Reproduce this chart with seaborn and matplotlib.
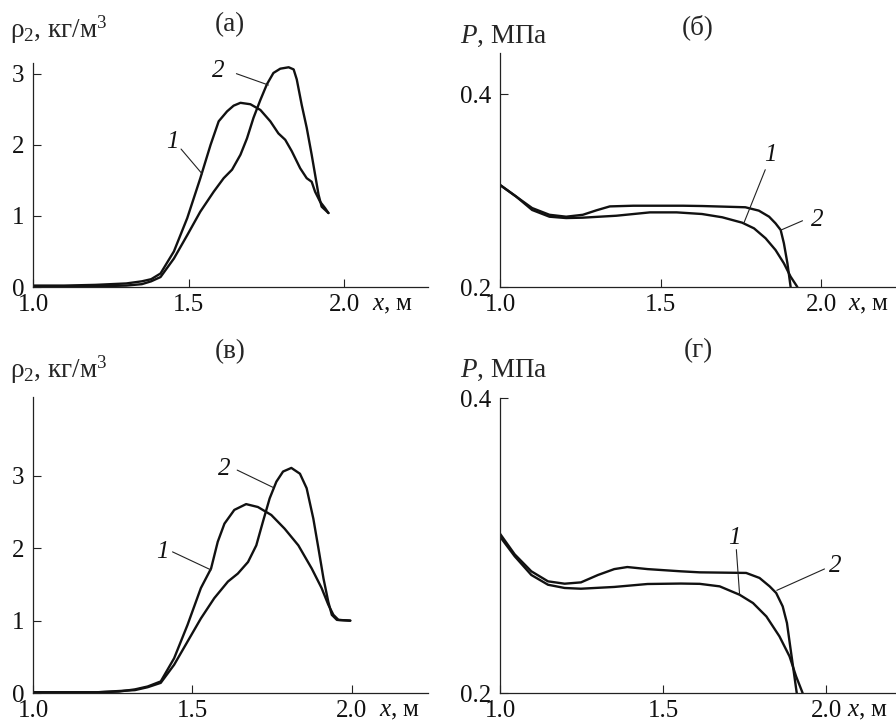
import numpy as np
import pandas as pd
import matplotlib
matplotlib.use("Agg")
import matplotlib.pyplot as plt
import seaborn as sns

# ---------------- data ----------------
# panel (а): rho2 vs x
a1_x = [1.00, 1.10, 1.20, 1.30, 1.35, 1.38, 1.41, 1.453, 1.496, 1.538, 1.571, 1.597, 1.624, 1.645,
        1.667, 1.699, 1.731, 1.763, 1.789, 1.811, 1.832, 1.859, 1.880, 1.896, 1.907, 1.923, 1.939, 1.95]
a1_y = [0.02, 0.02, 0.03, 0.05, 0.08, 0.11, 0.19, 0.50, 0.97, 1.53, 2.00, 2.33, 2.47, 2.55,
        2.59, 2.57, 2.49, 2.33, 2.16, 2.07, 1.91, 1.67, 1.53, 1.48, 1.34, 1.20, 1.11, 1.04]
a2_x = [1.00, 1.20, 1.30, 1.35, 1.38, 1.41, 1.453, 1.496, 1.538, 1.581, 1.613, 1.640, 1.667, 1.688,
        1.709, 1.731, 1.752, 1.773, 1.795, 1.822, 1.838, 1.848, 1.864, 1.880, 1.896, 1.907, 1.918,
        1.928, 1.95]
a2_y = [0.01, 0.01, 0.02, 0.04, 0.08, 0.14, 0.40, 0.73, 1.06, 1.34, 1.53, 1.65, 1.86, 2.09,
        2.38, 2.63, 2.85, 3.01, 3.07, 3.09, 3.06, 2.92, 2.56, 2.24, 1.86, 1.58, 1.30,
        1.13, 1.04]

# panel (б): P vs x
b1_x = [1.00, 1.05, 1.10, 1.154, 1.206, 1.258, 1.362, 1.467, 1.55, 1.629, 1.692, 1.754, 1.791,
        1.827, 1.858, 1.884, 1.905, 1.926]
b1_y = [0.306, 0.294, 0.280, 0.273, 0.2716, 0.272, 0.274, 0.2775, 0.2775, 0.2758, 0.2724, 0.2668,
        0.2609, 0.2506, 0.2384, 0.2246, 0.2107, 0.200]
b2_x = [1.00, 1.05, 1.10, 1.154, 1.206, 1.258, 1.30, 1.342, 1.415, 1.57, 1.629, 1.764, 1.806,
        1.838, 1.858, 1.874, 1.884, 1.895, 1.905]
b2_y = [0.306, 0.294, 0.282, 0.275, 0.273, 0.275, 0.2796, 0.2837, 0.2844, 0.2844, 0.2841, 0.2828,
        0.2793, 0.2730, 0.2661, 0.2592, 0.2454, 0.2246, 0.200]

# panel (в): rho2 vs x
c1_x = [1.00, 1.10, 1.20, 1.27, 1.32, 1.36, 1.401, 1.443, 1.485, 1.527, 1.559, 1.580, 1.601, 1.632,
        1.669, 1.706, 1.748, 1.790, 1.833, 1.875, 1.906, 1.927, 1.943, 1.959, 1.996]
c1_y = [0.01, 0.01, 0.01, 0.02, 0.05, 0.09, 0.16, 0.48, 0.94, 1.45, 1.72, 2.09, 2.34, 2.53,
        2.61, 2.57, 2.46, 2.27, 2.04, 1.72, 1.45, 1.22, 1.08, 1.01, 1.00]
c2_x = [1.00, 1.20, 1.32, 1.36, 1.401, 1.443, 1.485, 1.527, 1.569, 1.612, 1.643, 1.675, 1.701,
        1.722, 1.743, 1.764, 1.785, 1.811, 1.838, 1.859, 1.880, 1.896, 1.912, 1.927, 1.938, 1.954, 1.996]
c2_y = [0.01, 0.01, 0.04, 0.08, 0.14, 0.39, 0.71, 1.03, 1.31, 1.54, 1.65, 1.81, 2.04,
        2.37, 2.69, 2.92, 3.06, 3.11, 3.03, 2.83, 2.41, 2.00, 1.58, 1.26, 1.08, 1.01, 1.00]

# panel (г): P vs x
d1_x = [1.00, 1.045, 1.096, 1.147, 1.198, 1.248, 1.35, 1.452, 1.554, 1.612, 1.673, 1.734, 1.775,
        1.816, 1.856, 1.887, 1.907, 1.927]
d1_y = [0.306, 0.2927, 0.280, 0.2734, 0.2712, 0.2707, 0.2719, 0.2739, 0.2742, 0.2740, 0.2723,
        0.2666, 0.2610, 0.2519, 0.2384, 0.2248, 0.2113, 0.200]
d2_x = [1.00, 1.045, 1.096, 1.147, 1.198, 1.248, 1.30, 1.35, 1.39, 1.452, 1.554, 1.612, 1.754,
        1.795, 1.826, 1.846, 1.866, 1.879, 1.889, 1.899, 1.909]
d2_y = [0.308, 0.294, 0.2825, 0.2757, 0.2741, 0.275, 0.280, 0.284, 0.2854, 0.284, 0.2825, 0.2818,
        0.2814, 0.2780, 0.2723, 0.2678, 0.2587, 0.2475, 0.2316, 0.2158, 0.200]

x_ticks = [1.0, 1.5, 2.0]
x_tick_labels = ["1.0", "1.5", "2.0"]
rho_ticks = [0, 1, 2, 3]
rho_tick_labels = ["0", "1", "2", "3"]
p_ticks = [0.2, 0.4]
p_tick_labels = ["0.2", "0.4"]

panel_titles = ["(а)", "(б)", "(в)", "(г)"]
rho_label = "ρ$_2$, кг/м$^3$"
p_label = "$P$, МПа"
x_label = "$x$, м"

# curve number labels: (text, text pos, leader start, leader end)
curve_labels = {
    0: [("2", (1.597, 3.04), (1.654, 3.0), (1.757, 2.84)),
        ("1", (1.448, 2.04), (1.476, 1.94), (1.544, 1.59))],
    1: [("1", (1.843, 0.337), (1.826, 0.3218), (1.759, 0.2661)),
        ("2", (1.988, 0.2696), (1.942, 0.2688), (1.874, 0.259))],
    2: [("2", (1.601, 3.10), (1.641, 3.08), (1.754, 2.84)),
        ("1", (1.406, 1.95), (1.438, 1.95), (1.559, 1.70))],
    3: [("1", (1.717, 0.305), (1.724, 0.2972), (1.734, 0.2666)),
        ("2", (2.027, 0.286), (1.994, 0.2841), (1.848, 0.2696))],
}

# ---------------- style ----------------
sns.set_style("ticks")
plt.rcParams["font.family"] = ["Liberation Serif", "DejaVu Serif"]
plt.rcParams["mathtext.fontset"] = "custom"
plt.rcParams["mathtext.rm"] = "Liberation Serif"
plt.rcParams["mathtext.it"] = "Liberation Serif:italic"
plt.rcParams["mathtext.bf"] = "Liberation Serif:bold"
FS_TICK = 18
FS_LAB = 19.5

W, H = 896, 725
fig = plt.figure(figsize=(W / 100, H / 100), dpi=100)


def px_axes(l, r, t, b):
    return fig.add_axes([l / W, 1 - b / H, (r - l) / W, (b - t) / H])


axes = [
    px_axes(33, 428, 63, 287),
    px_axes(500, 895, 53, 287),
    px_axes(33, 428, 397, 693),
    px_axes(500, 895, 398, 693),
]

series = [
    (a1_x, a1_y, a2_x, a2_y),
    (b1_x, b1_y, b2_x, b2_y),
    (c1_x, c1_y, c2_x, c2_y),
    (d1_x, d1_y, d2_x, d2_y),
]
xlims = [(1.0, 2.27), (1.0, 2.23), (1.0, 2.24), (1.0, 2.21)]
ylims = [(0, 3.15), (0.2, 0.443), (0, 4.09), (0.2, 0.4)]
xlab_pos = [2.09, 2.085, 2.085, 2.062]

for i, ax in enumerate(axes):
    x1, y1, x2, y2 = series[i]
    df = pd.concat([
        pd.DataFrame({"x": x1, "y": y1, "curve": "1"}),
        pd.DataFrame({"x": x2, "y": y2, "curve": "2"}),
    ], ignore_index=True)
    sns.lineplot(data=df, x="x", y="y", hue="curve", units="curve", estimator=None,
                 sort=False, palette={"1": "#111111", "2": "#111111"}, linewidth=1.7,
                 legend=False, ax=ax)
    for ln in ax.lines:
        ln.set_solid_joinstyle("round")
        ln.set_solid_capstyle("round")
    ax.set_xlim(*xlims[i])
    ax.set_ylim(*ylims[i])
    ax.set_xlabel("")
    ax.set_ylabel("")
    ax.set_xticks(x_ticks)
    ax.set_xticklabels(x_tick_labels)
    if i in (0, 2):
        ax.set_yticks(rho_ticks)
        ax.set_yticklabels(rho_tick_labels)
    else:
        ax.set_yticks(p_ticks)
        ax.set_yticklabels(p_tick_labels)
    sns.despine(ax=ax)
    for s in ("left", "bottom"):
        ax.spines[s].set_linewidth(0.9)
        ax.spines[s].set_color("#222222")
    ax.tick_params(direction="in", length=6, width=0.8, color="#222222",
                   labelsize=FS_TICK, colors="#111111")
    ax.tick_params(axis="x", pad=5)
    ax.tick_params(axis="y", pad=6)
    ax.annotate(x_label, xy=(xlab_pos[i], 0), xycoords=ax.get_xaxis_transform(),
                xytext=(0, -5), textcoords="offset points", ha="left", va="top",
                fontsize=FS_TICK, color="#111111")
    for txt, tpos, ls, le in curve_labels[i]:
        ax.text(tpos[0], tpos[1], txt, fontsize=FS_TICK, fontstyle="italic",
                ha="center", va="center", color="#111111")
        ax.annotate("", xy=le, xytext=ls,
                    arrowprops=dict(arrowstyle="-", lw=0.8, color="#222222",
                                    shrinkA=0, shrinkB=0))

# panel titles and y-axis labels
fig.text(230 / W, 1 - 25 / H, panel_titles[0], ha="center", va="center", fontsize=FS_LAB)
fig.text(698 / W, 1 - 27 / H, panel_titles[1], ha="center", va="center", fontsize=FS_LAB)
fig.text(230 / W, 1 - 352 / H, panel_titles[2], ha="center", va="center", fontsize=FS_LAB)
fig.text(698 / W, 1 - 351 / H, panel_titles[3], ha="center", va="center", fontsize=FS_LAB)

fig.text(10 / W, 1 - 38 / H, rho_label, ha="left", va="baseline", fontsize=FS_LAB)
fig.text(460 / W, 1 - 43 / H, p_label, ha="left", va="baseline", fontsize=FS_LAB)
fig.text(10 / W, 1 - 378 / H, rho_label, ha="left", va="baseline", fontsize=FS_LAB)
fig.text(460 / W, 1 - 377 / H, p_label, ha="left", va="baseline", fontsize=FS_LAB)

fig.savefig("out.png", dpi=100, facecolor="white")
